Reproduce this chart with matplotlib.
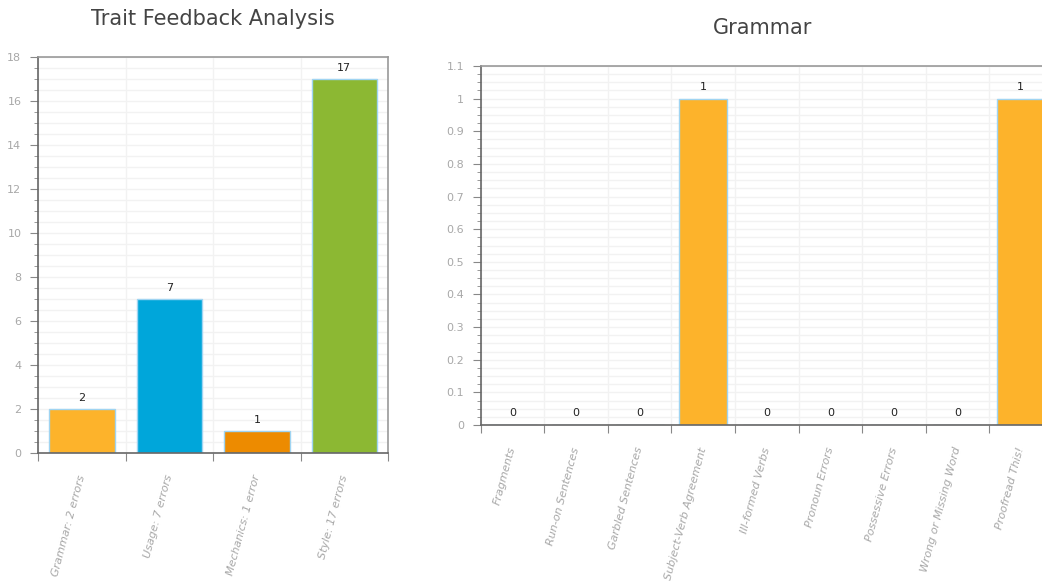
import matplotlib.pyplot as plt
import numpy as np
from matplotlib.ticker import MultipleLocator
from matplotlib.transforms import ScaledTranslation

# left chart data
trait_labels = ["Grammar: 2 errors", "Usage: 7 errors", "Mechanics: 1 error", "Style: 17 errors"]
trait_values = [2, 7, 1, 17]
trait_colors = ["#fdb32b", "#00a6da", "#ed8b00", "#8cb833"]

# right chart data
grammar_labels = ["Fragments", "Run-on Sentences", "Garbled Sentences", "Subject-Verb Agreement",
                  "Ill-formed Verbs", "Pronoun Errors", "Possessive Errors",
                  "Wrong or Missing Word", "Proofread This!"]
grammar_values = [0, 0, 0, 1, 0, 0, 0, 0, 1]

plt.rcParams['font.family'] = ['DejaVu Sans']

fig = plt.figure(figsize=(10.42, 5.86), dpi=100)
ax1 = fig.add_axes([0.0365, 0.227, 0.336, 0.6757])
ax2 = fig.add_axes([0.4616, 0.2747, 0.5485, 0.6127])


def style_axes(ax, labels, ymax, major, minor):
    n = len(labels)
    ax.set_xlim(-0.5, n - 0.5)
    ax.set_ylim(0, ymax)
    ax.yaxis.set_major_locator(MultipleLocator(major))
    ax.yaxis.set_minor_locator(MultipleLocator(minor))
    # ticks at category boundaries, labels at centers
    ax.set_xticks(np.arange(n + 1) - 0.5)
    ax.set_xticklabels([])
    ax.set_xticks(np.arange(n), minor=True)
    ax.set_xticklabels(labels, minor=True, rotation=75, ha='right', va='center',
                       rotation_mode='anchor', fontsize=8, color='#a8a8a8', style='italic')
    shift = ScaledTranslation(10 / 100, 0, fig.dpi_scale_trans)
    for lab in ax.get_xticklabels(minor=True):
        lab.set_transform(lab.get_transform() + shift)
    ax.tick_params(axis='x', which='minor', length=0, pad=16)
    ax.tick_params(axis='x', which='major', length=6, color='#888888', direction='out')
    ax.tick_params(axis='y', which='major', length=6, color='#888888', labelsize=8,
                   labelcolor='#a8a8a8', pad=6)
    ax.tick_params(axis='y', which='minor', length=3, color='#888888')
    ax.grid(True, which='major', axis='x', color='#f2f2f2', lw=1)
    ax.grid(True, which='both', axis='y', color='#f2f2f2', lw=1)
    ax.set_axisbelow(True)
    for s in ax.spines.values():
        s.set_color('#999999')
        s.set_linewidth(1.2)
    ax.spines['left'].set_color('#666666')
    ax.spines['bottom'].set_color('#666666')


style_axes(ax1, trait_labels, 18, 2, 0.5)
bars1 = ax1.bar(np.arange(len(trait_values)), trait_values, width=0.75,
                color=trait_colors, edgecolor='#9fd4f2', linewidth=1)
ax1.bar_label(bars1, padding=4, fontsize=8, color='#222222')
ax1.set_title("Trait Feedback Analysis", fontsize=15, color='#444444', pad=23)

style_axes(ax2, grammar_labels, 1.1, 0.1, 0.025)
ax2.set_yticks(np.round(np.arange(0, 1.11, 0.1), 1))
ax2.set_yticklabels(["0", "0.1", "0.2", "0.3", "0.4", "0.5", "0.6", "0.7", "0.8", "0.9", "1", "1.1"])
bars2 = ax2.bar(np.arange(len(grammar_values)), grammar_values, width=0.75,
                color="#fdb32b", edgecolor='#9fd4f2', linewidth=1)
ax2.bar_label(bars2, padding=5, fontsize=8, color='#222222')
ax2.set_title("Grammar", fontsize=15, color='#444444', pad=23, x=0.493)

fig.savefig("out.png", dpi=100)
